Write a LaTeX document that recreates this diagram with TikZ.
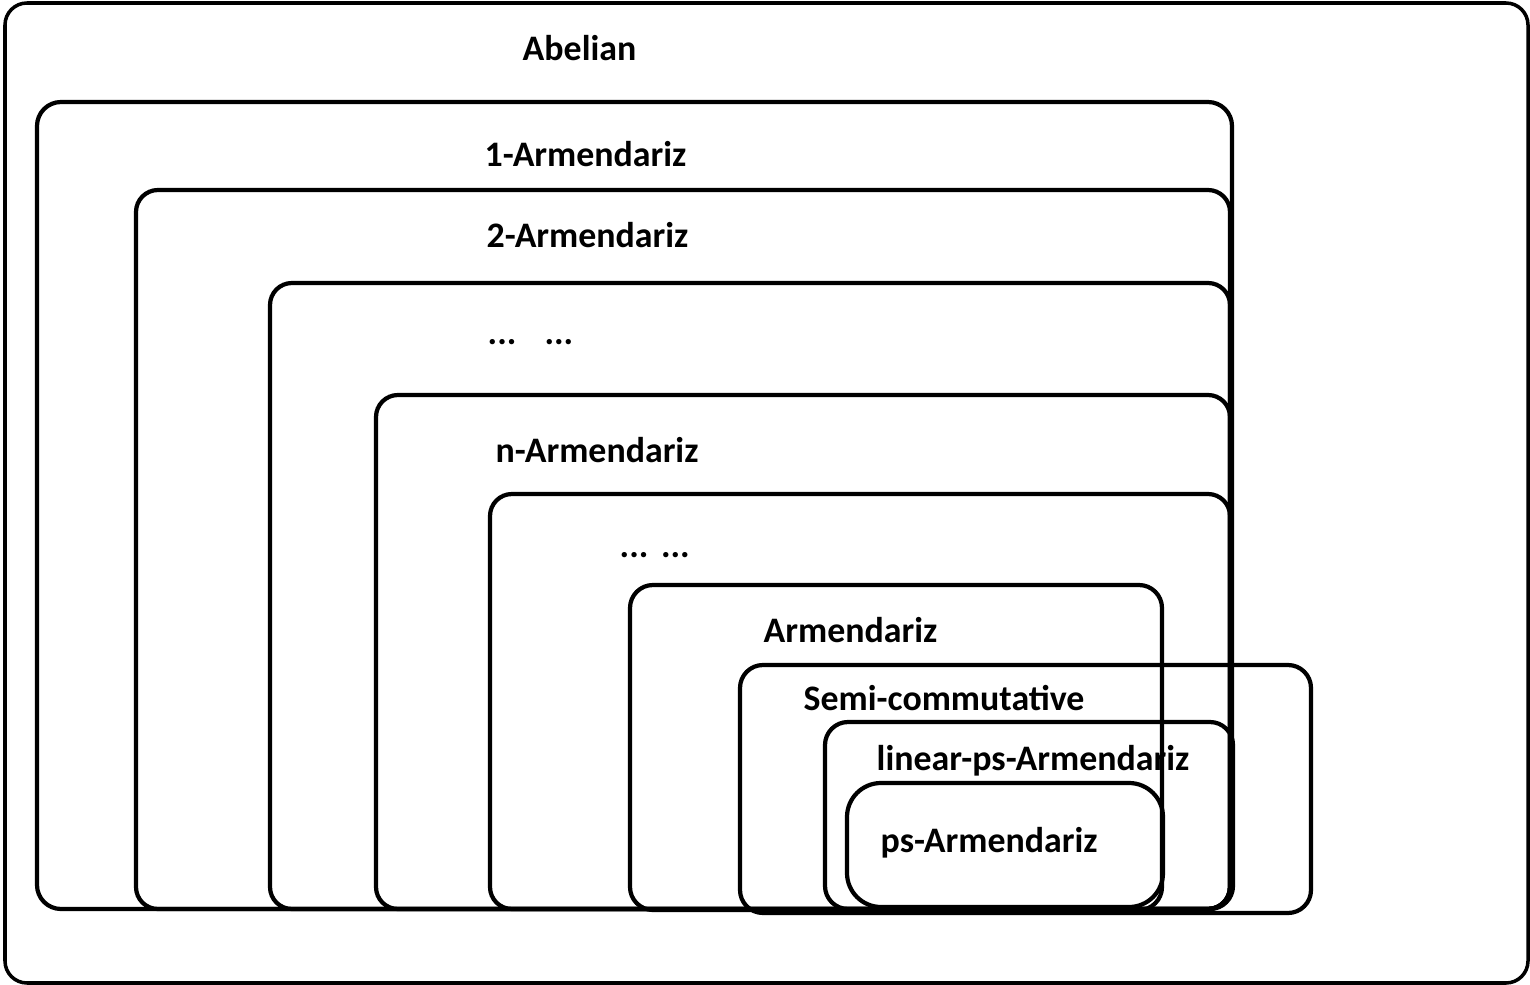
\documentclass[tikz,border=0pt]{standalone}
\usepackage{fontspec}
\setmainfont{Carlito}
\begin{document}
\begin{tikzpicture}[x=0.01cm,y=-0.01cm,
  box/.style={draw=black,line width=1.2pt,rounded corners=0.24cm},
  lbl/.style={anchor=base west,inner sep=0pt,font=\fontsize{10.2pt}{12pt}\selectfont\bfseries}]
\useasboundingbox (0,0) rectangle (1530,985);
% labels
\node[lbl] (tAb) at (522,61) {Abelian};
\node[lbl] (t1) at (484,167) {1-Armendariz};
\node[lbl] (t2) at (486,248) {2-Armendariz};
\node[lbl] (td1) at (487,344) {...\hspace{8pt}...};
\node[lbl] (tn) at (495,462) {n-Armendariz};
\node[lbl] (td2) at (619,557) {...\hspace{3.6pt}...};
\node[lbl] (tA) at (763,642) {Armendariz};
\node[lbl] (tS) at (803,710) {Semi-commutative};
\node[lbl] (tL) at (876,770) {linear-ps-Armendariz};
\node[lbl] (tP) at (880,852) {ps-Armendariz};
% boxes
\draw[box,line width=1pt,rounded corners=0.22cm] (5,3) rectangle (1528,983);
\draw[box] (37,102) rectangle (1232,909);
\draw[box,rounded corners=0.22cm] (136,190) rectangle (1230,909);
\draw[box,rounded corners=0.22cm] (270,283) rectangle (1230,909);
\draw[box,rounded corners=0.22cm] (376,395) rectangle (1230,909);
\draw[box,rounded corners=0.22cm] (490,494) rectangle (1230,909);
\draw[box,rounded corners=0.23cm] (630,585) rectangle (1162,910);
\draw[box,rounded corners=0.23cm] (740,665) rectangle (1311,913);
\draw[box,rounded corners=0.23cm] (825,722) rectangle (1233,909);
\draw[box,rounded corners=0.34cm] (847,783) rectangle (1163,907);
\end{tikzpicture}
\end{document}
